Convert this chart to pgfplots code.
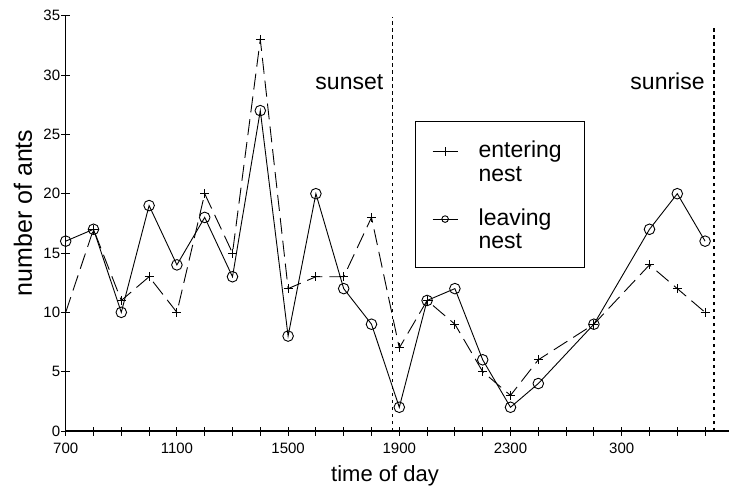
\documentclass[border=0pt]{standalone}
\usepackage{fontspec}
\setmainfont{Liberation Sans}
\usepackage{pgfplots}
\pgfplotsset{compat=1.18}

\newcommand{\tkfont}{\fontsize{15}{15}\selectfont}
\newcommand{\lgfont}{\fontsize{23}{23.7}\selectfont}

\pgfplotsset{
	shortlegend/.style={legend image code/.code={%
		\draw[mark repeat=2,mark phase=2,##1,solid,#1] plot coordinates {(0pt,29.7pt) (12.5pt,29.7pt) (25pt,29.7pt)};}},
}

\begin{document}
\begin{tikzpicture}
\begin{axis}[
	scale only axis,
	width=663.3pt,
	height=415.3pt,
	xmin=0, xmax=23.86,
	ymin=0, ymax=35,
	axis x line=bottom,
	axis y line=left,
	axis line style={-, line width=1.1pt},
	clip=false,
	tick align=center,
	major tick length=9pt,
	minor tick length=9pt,
	tick style={black, line width=0.9pt},
	xtick={0,4,...,20},
	xticklabels={700,1100,1500,1900,2300,300},
	minor xtick={1,...,23},
	ytick={0,5,...,35},
	tick label style={font=\tkfont},
	xticklabel style={yshift=-4pt},
	yticklabel style={xshift=2.5pt},
	/pgf/number format/assume math mode=true,
	xlabel={time of day},
	xlabel style={at={(axis description cs:0.4814,0)}, anchor=base, yshift=-50pt, font=\fontsize{22}{22}\selectfont},
	legend style={at={(axis cs:12.565,26.12)}, anchor=north west, draw=black, line width=0.9pt,
		inner xsep=16.7pt, inner ysep=16.8pt, column sep=20.6pt, row sep=25.7pt,
		nodes={anchor=base west, inner sep=0pt, font=\lgfont}},
]

% entering nest
\addplot[black, line width=0.9pt, dash pattern=on 16pt off 7pt, mark=+, mark size=4.5pt, mark options={solid},
	shortlegend={}]
coordinates {
	(0,10) (1,17) (2,11) (3,13) (4,10) (5,20) (6,15) (7,33) (8,12) (9,13) (10,13) (11,18)
	(12,7) (13,11) (14,9) (15,5) (16,3) (17,6) (19,9) (21,14) (22,12) (23,10)
};
\addlegendentry{\begin{tabular}[b]{@{}l@{\hspace{5.6pt}}}\rule{0pt}{19.2pt}entering\\nest\end{tabular}}

% leaving nest
\addplot[black, line width=0.9pt, mark=o, mark size=5.3pt,
	shortlegend={mark size=3.3pt}]
coordinates {
	(0,16) (1,17) (2,10) (3,19) (4,14) (5,18) (6,13) (7,27) (8,8) (9,20) (10,12) (11,9)
	(12,2) (13,11) (14,12) (15,6) (16,2) (17,4) (19,9) (21,17) (22,20) (23,16)
};
\addlegendentry{\begin{tabular}[b]{@{}l@{\hspace{5.6pt}}}leaving\\nest\end{tabular}}

% sunset / sunrise
\addplot[black, line width=1.6pt, dash pattern=on 3.5pt off 3.5pt, forget plot] coordinates {(11.76,0) (11.76,34.9)};
\addplot[black, line width=1.6pt, dash pattern=on 3.5pt off 3.5pt, forget plot] coordinates {(23.33,0) (23.33,34)};
\node[anchor=base east, font=\fontsize{23}{23}\selectfont] at (axis cs:11.55,28.82) {sunset};
\node[anchor=base east, font=\fontsize{23}{23}\selectfont] at (axis cs:23.11,28.82) {sunrise};
\node[rotate=90, anchor=center, font=\fontsize{25}{25}\selectfont] at ([xshift=-42.7pt]axis description cs:0,0.525) {number of ants};
\end{axis}
\pgfresetboundingbox
\path[use as bounding box] (-65.7pt,-57pt) rectangle (663.3pt,431pt);
\end{tikzpicture}
\end{document}
